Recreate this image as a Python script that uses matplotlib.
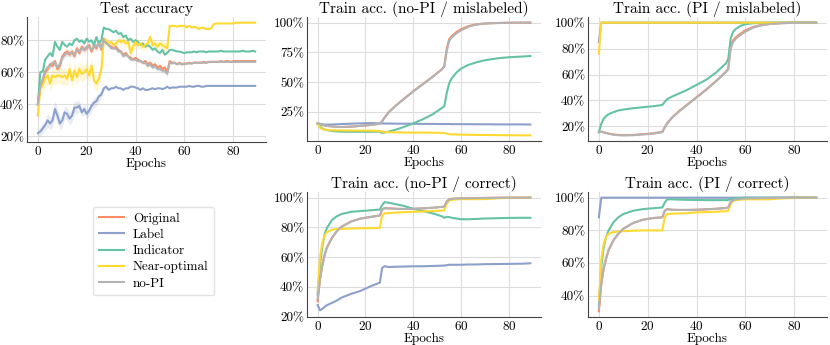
import numpy as np
import matplotlib
matplotlib.use("Agg")
import matplotlib.pyplot as plt
from matplotlib.ticker import PercentFormatter

plt.rcParams['font.family'] = ['cmr10', 'DejaVu Serif']
plt.rcParams['mathtext.fontset'] = 'cm'
plt.rcParams['axes.formatter.use_mathtext'] = True

names = ['Original', 'Label', 'Indicator', 'Near-optimal', 'no-PI']
colors = ['#fc8d62', '#8da0cb', '#66c2a5', '#ffd92f', '#b3b3b3']

# ---- test accuracy, one value per epoch (0..89), in %
test_epochs = list(range(90))
test_orig = [40, 52, 55, 60, 62, 65, 64, 67, 62, 64,
             70, 72, 73, 71, 73, 70, 75, 72, 76, 74,
             75, 77, 73, 77, 75, 79, 74, 81, 79, 77,
             76, 75, 76, 74, 73, 71, 72, 70, 69, 68,
             69, 68, 67, 66, 67, 65, 66, 64, 65, 63,
             64, 62, 63, 60, 67, 66, 66, 65, 66, 65,
             65.5, 65.5, 66, 65.5, 66, 66, 66, 66, 66.5, 66,
             66.5, 66.5, 66.5, 66.5, 66.5, 67, 66.5, 67, 67, 66.5,
             67, 67, 67, 67, 67, 67, 67, 67, 67, 67]
test_label = [22, 23, 25, 27, 30, 28, 30, 37, 33, 28,
              30, 35, 34, 31, 33, 38, 38, 39, 35, 37,
              34, 36, 39, 41, 42, 45, 46, 50, 51, 49,
              50, 50, 51, 50, 50, 49, 50, 50, 51, 51,
              50.5, 50, 49, 50, 49, 49, 49.5, 50, 49.5, 50,
              50, 49.5, 50, 51, 50, 50.5, 50.5, 50.5, 51, 51,
              51, 51, 51.5, 51, 51, 51.5, 51.5, 51, 51, 51.5,
              51.5, 51.5, 51.5, 51.5, 51.5, 51.5, 51.5, 51.5, 51.5, 51.5,
              51.5, 51.5, 51.5, 51.5, 51.5, 51.5, 51.5, 51.5, 51.5, 51.5]
test_ind = [40, 60, 60.5, 68, 70, 72, 70, 79, 76, 74,
            79, 77, 76, 78, 77, 80, 81, 79, 80, 78,
            81, 79, 80, 77, 82, 78, 80, 88, 87, 87,
            86, 85, 86, 84, 84.5, 82, 83, 80, 81, 79,
            80, 79, 77, 78, 76, 77, 76, 74, 75, 73,
            72, 74, 71, 72, 74, 74, 73.5, 73, 73, 72.5,
            72, 72.5, 72.5, 72.5, 73, 72.5, 73, 73, 73, 72.5,
            73, 73, 73, 73, 73, 73.5, 73, 73, 73, 73,
            73, 73, 73, 73, 73.5, 73, 73, 73, 73.5, 73]
test_near = [33, 50, 52, 56, 58, 53, 58, 57, 58, 58,
             57, 58, 56, 62, 55, 61, 57, 62, 59, 60,
             62, 58, 64, 55, 53, 56, 62, 80, 80, 78,
             79, 77, 78, 80, 79, 80, 78, 79, 72, 76,
             79, 77, 78, 76, 77, 78, 82, 77, 78, 76,
             78, 77, 76, 75, 89, 89, 89, 88.5, 89, 89,
             89, 88, 89, 88, 88.5, 88, 87, 88, 87.5, 87,
             87, 87.5, 90, 90.5, 90.5, 90.5, 90.5, 90.5, 90.5, 90.5,
             90.5, 91, 91, 91, 91, 91, 91, 91, 91, 91]
test_nopi = [40, 51, 56, 61, 63, 64, 66, 66, 63, 65,
             69, 71, 72, 72, 72, 71, 74, 73, 75, 74,
             76, 76, 74, 76, 76, 78, 75, 80, 78, 77,
             75, 75, 75, 73, 73, 70, 71, 70, 68, 68,
             68, 67, 67, 66, 66, 64, 65, 63, 64, 62,
             62, 61, 61, 59, 66, 65.5, 66, 65, 65.5, 65,
             65, 65.5, 65.5, 65.5, 66, 66, 66, 66, 66, 66,
             66.5, 66.5, 66.5, 66.5, 66.5, 66.5, 66.5, 66.5, 66.5, 66.5,
             66.5, 66.5, 66.5, 66.5, 66.5, 66.5, 66.5, 66.5, 66.5, 66.5]

# band half-widths (std) for the noisier runs, epochs from 0
band_label = [2, 3, 3, 3, 4, 4, 4, 5, 4, 4, 4, 4, 4, 4, 4, 4, 4, 3, 3, 3,
              3, 3, 3, 3, 3, 3, 2, 1.5, 1, 1]
band_near = [2, 4, 5, 5, 5, 5, 5, 5, 5, 5, 5, 5, 5, 5, 5, 5, 5, 5, 5, 5,
             5, 5, 5, 5, 5, 5, 4, 2, 2, 2, 2, 2, 2, 2, 3, 3, 3, 3, 4, 3,
             3, 3, 3, 3, 3, 3, 3, 3, 3, 3, 3, 3, 3, 3]
band_orig = [1, 2, 2, 2, 2, 2, 2, 2, 2, 2, 2, 2, 2, 2, 2, 2, 2, 2, 2, 2,
             2, 2, 2, 2, 2, 2, 2, 1, 1, 1, 1, 1, 1, 1, 1, 1, 1, 1, 1, 1,
             1, 1, 1, 1, 1.5, 1.5, 1.5, 1.5, 1.5, 1.5, 1.5, 1.5, 1.5, 2]

# ---- train curves, sampled epochs shared by the four train panels, in %
train_epochs = [0, 1, 2, 3, 4, 6, 8, 10, 14, 18, 22, 26, 27, 28, 30, 33, 36,
                40, 44, 48, 52, 53, 54, 55, 56, 58, 60, 63, 66, 70, 75, 80, 85, 89]

# no-PI / mislabeled
nm_orig = [15.5, 15, 14.2, 13.8, 13.4, 13, 12.6, 12.5, 12.8, 13.5, 14.2, 15.2, 17.5,
           20.5, 25.5, 31, 36, 42.5, 48.5, 54.5, 61, 63.5, 78, 86, 88.5, 92, 94.5,
           97, 98.5, 99.3, 99.7, 99.9, 100, 100]
nm_label = [15.5, 15.2, 14.8, 14.6, 14.5, 14.6, 14.8, 15, 15.3, 15.6, 15.8, 15.6,
            15.5, 15.4, 15.4, 15.3, 15.3, 15.2, 15.1, 15.1, 15.0, 15.0, 15.0, 15.0,
            14.9, 14.9, 14.9, 14.9, 14.8, 14.8, 14.7, 14.7, 14.7, 14.6]
nm_ind = [15.5, 13, 11.2, 10.3, 9.8, 9.2, 8.8, 8.6, 8.5, 8.5, 8.5, 8.6, 7.6, 7.9,
          8.8, 10.5, 12.5, 15.5, 19, 23, 28.5, 30, 41, 49, 53, 58, 61.5, 64.5,
          66.5, 68.5, 70, 71, 71.5, 72]
nm_near = [15.5, 12, 10.8, 10.2, 10, 9.8, 9.7, 9.6, 9.5, 9.5, 9.4, 9.2, 8.6, 8.3,
           8.1, 8, 7.9, 7.8, 7.8, 7.7, 7.6, 7.5, 7, 6.5, 6.3, 6.2, 6.1, 6, 5.9,
           5.8, 5.7, 5.6, 5.5, 5.5]
nm_nopi = [15.5, 15, 14.2, 13.8, 13.4, 13, 12.6, 12.5, 12.8, 13.5, 14.2, 15.2, 17.3,
           20.3, 25.3, 30.8, 35.8, 42.3, 48.3, 54.3, 60.8, 63.3, 76, 84.5, 87.5, 91,
           93.5, 96.5, 98.2, 99.2, 99.7, 99.9, 100, 100]

# PI / mislabeled
pm_orig = [16, 16, 15.5, 15, 14.5, 13.8, 13.4, 13.3, 13.4, 14, 14.6, 15.8, 19.5,
           22.5, 27, 32, 36.5, 42.5, 48.5, 55, 62, 64.5, 82, 86.5, 88.5, 91.5, 94,
           96.5, 98, 99, 99.6, 99.9, 100, 100]
pm_label = [85, 100, 100, 100, 100, 100, 100, 100, 100, 100, 100, 100, 100, 100,
            100, 100, 100, 100, 100, 100, 100, 100, 100, 100, 100, 100, 100, 100,
            100, 100, 100, 100, 100, 100]
pm_ind = [15.5, 22, 26, 28, 29.5, 31, 32.3, 33, 34, 34.8, 35.5, 36.5, 39, 41, 43,
          45.5, 48, 52, 56, 61.5, 68.5, 72, 88, 93, 95, 97.5, 98.8, 99.5, 99.8,
          100, 100, 100, 100, 100]
pm_near = [76, 100, 100, 100, 100, 100, 100, 100, 100, 100, 100, 100, 100, 100,
           100, 100, 100, 100, 100, 100, 100, 100, 100, 100, 100, 100, 100, 100,
           100, 100, 100, 100, 100, 100]
pm_nopi = [15.5, 15.8, 15.3, 14.8, 14.3, 13.6, 13.2, 13.1, 13.2, 13.8, 14.4, 15.6,
           19.2, 22.2, 26.8, 31.8, 36.3, 42.3, 48.3, 54.8, 61.8, 64, 80, 85, 87.5,
           90.5, 93, 96, 97.7, 98.9, 99.6, 99.9, 100, 100]

# no-PI / correct
nc_orig = [30.5, 45, 55, 62, 67, 73, 77.5, 80.5, 84, 86, 87, 88, 92, 93, 92.8,
           92.5, 92.4, 92.5, 92.8, 93.2, 93.8, 94, 97.5, 98.8, 99.2, 99.4, 99.5,
           99.6, 99.7, 99.8, 99.9, 100, 100, 100]
nc_label = [28, 24.5, 25.5, 27, 28, 29.5, 31, 33, 35.5, 37.5, 40.5, 43, 53, 54,
            53.5, 53.7, 53.8, 54, 54, 54.2, 54.4, 54.5, 54.7, 55, 55, 55, 55, 55.2,
            55.2, 55.4, 55.5, 55.6, 55.7, 56]
nc_ind = [35, 55, 68, 76, 80, 85, 87.5, 89, 90.5, 91, 91.5, 92, 95, 97, 96.5,
          95.5, 94.5, 92.5, 91, 89.5, 87.5, 86.5, 87, 87, 86.5, 86, 85.5, 85.5,
          85.7, 86, 86.2, 86.4, 86.5, 86.5]
nc_near = [38, 60, 70, 75, 77, 78.5, 79, 79, 79.3, 79.5, 79.5, 79.7, 88, 89.5,
           89.7, 90, 90.2, 90.5, 90.7, 91, 91.3, 91.5, 96, 98, 98.5, 98.8, 99, 99,
           99, 99, 99.6, 99.8, 100, 100]
nc_nopi = [32, 46, 55, 62, 67, 73, 77.5, 80.5, 84, 86, 87, 88, 92, 93, 92.8,
           92.5, 92.4, 92.5, 92.8, 93.2, 93.8, 94, 97.3, 98.7, 99.1, 99.4, 99.5,
           99.6, 99.7, 99.8, 99.9, 100, 100, 100]

# PI / correct
pc_orig = [30.5, 47, 57, 63, 68, 74, 78, 81, 84.5, 86.5, 87.5, 88, 92, 93, 92.6,
           92.5, 92.5, 92.6, 92.9, 93.2, 93.7, 94, 97.5, 98.5, 99, 99.3, 99.5,
           99.6, 99.7, 99.8, 99.9, 100, 100, 100]
pc_label = [88, 100, 100, 100, 100, 100, 100, 100, 100, 100, 100, 100, 100, 100,
            100, 100, 100, 100, 100, 100, 100, 100, 100, 100, 100, 100, 100, 100,
            100, 100, 100, 100, 100, 100]
pc_ind = [34, 58, 70, 76, 80, 85, 88, 90, 92, 93, 93.5, 94, 97, 99, 99, 98.8,
          98.7, 98.6, 98.5, 98.5, 98.5, 98.5, 99.2, 99.5, 99.7, 99.8, 100, 100,
          100, 100, 100, 100, 100, 100]
pc_near = [37, 62, 72, 76, 78, 79, 79.3, 79.5, 79.8, 80, 80, 80, 88, 90, 90.2,
           90.4, 90.5, 91, 91.2, 91.4, 91.7, 92, 96, 98, 98.5, 98.8, 99, 99, 99,
           99, 99.6, 99.8, 100, 100]
pc_nopi = [32, 48, 57, 63, 68, 74, 78, 81, 84.5, 86.5, 87.5, 88, 92, 93, 92.6,
           92.5, 92.5, 92.6, 92.9, 93.2, 93.7, 94, 97.3, 98.4, 98.9, 99.3, 99.5,
           99.6, 99.7, 99.8, 99.9, 100, 100, 100]


def style_axes(ax, title, yticks):
    ax.set_title(title, fontsize=11, pad=3)
    ax.grid(True, color='#dddddd', linewidth=0.8)
    ax.set_axisbelow(True)
    for s in ['top', 'right']:
        ax.spines[s].set_visible(False)
    for s in ['left', 'bottom']:
        ax.spines[s].set_color('#444444')
        ax.spines[s].set_linewidth(0.8)
    ax.tick_params(length=0, labelsize=9.5, pad=2)
    ax.set_xticks([0, 20, 40, 60, 80])
    ax.set_yticks(yticks)
    ax.yaxis.set_major_formatter(PercentFormatter(100, decimals=0))
    ax.set_xlabel('Epochs', fontsize=9.5, labelpad=0)
    ax.set_facecolor('white')


fig = plt.figure(figsize=(8.3, 3.45), dpi=100)

W = 830.0
H = 345.0


def add_ax(l, r, t, b):
    return fig.add_axes([l / W, 1 - b / H, (r - l) / W, (b - t) / H])


ax_test = add_ax(27, 266, 17, 142)
ax_nm = add_ax(307, 541, 17, 141)
ax_pm = add_ax(588, 827, 17, 141)
ax_nc = add_ax(307, 541, 192, 317)
ax_pc = add_ax(588, 827, 192, 317)

# test accuracy
te = np.array(test_epochs)
test_series = [test_orig, test_label, test_ind, test_near, test_nopi]
bands = {0: band_orig, 1: band_label, 3: band_near, 4: band_orig}
for i, ys in enumerate(test_series):
    ys = np.array(ys)
    if i in bands:
        b = np.array(bands[i])
        n = len(b)
        ax_test.fill_between(te[:n], ys[:n] - b, ys[:n] + b, color=colors[i],
                             alpha=0.2, linewidth=0)
    ax_test.plot(te, ys, color=colors[i], lw=1.5, label=names[i])
style_axes(ax_test, 'Test accuracy', [20, 40, 60, 80])

panels = [
    (ax_nm, 'Train acc. (no-PI / mislabeled)', [nm_orig, nm_label, nm_ind, nm_near, nm_nopi], [25, 50, 75, 100]),
    (ax_pm, 'Train acc. (PI / mislabeled)', [pm_orig, pm_label, pm_ind, pm_near, pm_nopi], [20, 40, 60, 80, 100]),
    (ax_nc, 'Train acc. (no-PI / correct)', [nc_orig, nc_label, nc_ind, nc_near, nc_nopi], [20, 40, 60, 80, 100]),
    (ax_pc, 'Train acc. (PI / correct)', [pc_orig, pc_label, pc_ind, pc_near, pc_nopi], [40, 60, 80, 100]),
]
for ax, title, series, yt in panels:
    for i, ys in enumerate(series):
        ax.plot(train_epochs, ys, color=colors[i], lw=1.5)
    style_axes(ax, title, yt)

handles, labels = ax_test.get_legend_handles_labels()
fig.legend(handles, labels, loc='upper left',
           bbox_to_anchor=(86 / W, 1 - 200 / H), fontsize=9.5,
           frameon=True, fancybox=True, edgecolor='#dddddd',
           handlelength=1.9, handletextpad=0.7,
           labelspacing=0.3, borderpad=0.45)

fig.savefig('out.png', dpi=100)
